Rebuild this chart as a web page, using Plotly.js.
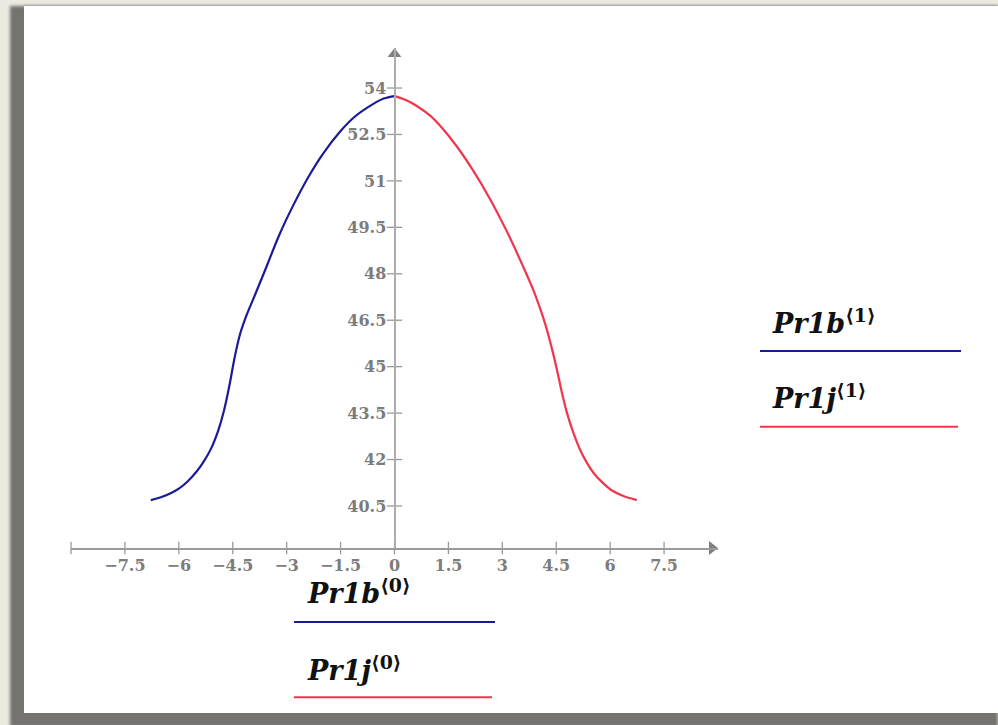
<!DOCTYPE html>
<html>
<head>
<meta charset="utf-8">
<script src="https://cdn.plot.ly/plotly-3.0.1.min.js"></script>
<style>
  html, body { margin: 0; padding: 0; background: #ece9e1; width: 998px; height: 725px; overflow: hidden; }
  #frame { position: absolute; left: 24px; top: 6px; width: 974px; height: 707px; background: #fff;
           box-shadow: -7px 7px 3px 7px #74736f, 0 -1px 2px #c9c6be; }
  #plot { width: 974px; height: 707px; }
</style>
</head>
<body>
<div id="frame"><div id="plot"></div></div>
<script>
// ---- data ----
const blueX = [-6.78, -6.5, -6.2, -6.0, -5.75, -5.5, -5.3, -5.1, -4.9, -4.75, -4.6, -4.45, -4.3, -4.11, -3.93, -3.8, -3.55, -3.2, -2.8, -2.4, -2.0, -1.5, -1.1, -0.6, -0.3, 0];
const blueY = [40.69, 40.78, 40.93, 41.06, 41.30, 41.62, 41.95, 42.36, 42.95, 43.55, 44.35, 45.28, 46.04, 46.68, 47.18, 47.55, 48.26, 49.27, 50.25, 51.12, 51.86, 52.61, 53.08, 53.48, 53.66, 53.74];
const redX = [0, 0.3, 0.62, 1.0, 1.27, 1.73, 2.19, 2.66, 3.12, 3.58, 3.86, 4.05, 4.2, 4.32, 4.44, 4.56, 4.68, 4.8, 4.98, 5.15, 5.35, 5.55, 5.81, 6.05, 6.35, 6.74];
const redY = [53.74, 53.62, 53.42, 53.1, 52.78, 52.12, 51.33, 50.41, 49.38, 48.23, 47.48, 46.88, 46.35, 45.85, 45.3, 44.68, 44.05, 43.5, 42.85, 42.35, 41.9, 41.55, 41.23, 41.0, 40.83, 40.69];

const xTickVals = [-7.5, -6, -4.5, -3, -1.5, 0, 1.5, 3, 4.5, 6, 7.5];
const xTickText = ['\u22127.5', '\u22126', '\u22124.5', '\u22123', '\u22121.5', '0', '1.5', '3', '4.5', '6', '7.5'];
const xTickMarks = [-9, -7.5, -6, -4.5, -3, -1.5, 0, 1.5, 3, 4.5, 6, 7.5];
const yTickVals = [40.5, 42, 43.5, 45, 46.5, 48, 49.5, 51, 52.5, 54];
const yTickText = ['40.5', '42', '43.5', '45', '46.5', '48', '49.5', '51', '52.5', '54'];

const legendLabels = [
  '<b><i>Pr1b</i></b><sup><b>\u27e80\u27e9</b></sup>',
  '<b><i>Pr1j</i></b><sup><b>\u27e80\u27e9</b></sup>',
  '<b><i>Pr1b</i></b><sup><b>\u27e81\u27e9</b></sup>',
  '<b><i>Pr1j</i></b><sup><b>\u27e81\u27e9</b></sup>'
];

// ---- layout constants ----
const xRange = [-9, 9];
const yRange = [39.143, 55.293];
const W = 974, H = 707;
const M = {l: 47, r: 280, t: 42, b: 165};
const plotW = W - M.l - M.r, plotH = H - M.t - M.b;
const pxPerX = plotW / (xRange[1] - xRange[0]);
const pxPerY = plotH / (yRange[1] - yRange[0]);
// page-pixel -> paper helpers (frame sits at page 24,6)
const PX0 = 24 + M.l, PY1 = 6 + M.t + plotH;
const px = v => (v - PX0) / plotW;
const py = v => (PY1 - v) / plotH;

const BLUE = '#1b1b98';
const RED = '#f2354c';
const AXC = '#9a9a9a';

const traces = [
  {x: xTickMarks, y: xTickMarks.map(() => yRange[0]), mode: 'markers', hoverinfo: 'skip', cliponaxis: false,
   marker: {symbol: 'line-ns', size: 9, color: AXC, line: {width: 1.3, color: AXC}}},
  {x: yTickVals.map(() => 0), y: yTickVals, mode: 'markers', hoverinfo: 'skip', cliponaxis: false,
   marker: {symbol: 'line-ew', size: 11, color: AXC, line: {width: 1.3, color: AXC}}},
  {x: [0], y: [yRange[1] - 6 / pxPerY], mode: 'markers', hoverinfo: 'skip', cliponaxis: false,
   marker: {symbol: 'triangle-up', size: 12, color: '#808080'}},
  {x: [xRange[1] - 6 / pxPerX], y: [yRange[0]], mode: 'markers', hoverinfo: 'skip', cliponaxis: false,
   marker: {symbol: 'triangle-right', size: 12, color: '#808080'}},
  {x: blueX, y: blueY, mode: 'lines', line: {color: BLUE, width: 2.2, shape: 'spline', smoothing: 1}, hoverinfo: 'x+y'},
  {x: redX, y: redY, mode: 'lines', line: {color: RED, width: 2.2, shape: 'spline', smoothing: 1}, hoverinfo: 'x+y'}
];

const tickFont = {family: 'DejaVu Serif', size: 16, color: '#7c7c7c', weight: 'bold'};
const legFont = {family: 'DejaVu Serif', size: 27, color: '#111111'};

const legendPos = [
  {x: 305, base: 603, lx0: 294, lx1: 495, ly: 622, c: BLUE},
  {x: 305, base: 680, lx0: 294, lx1: 492, ly: 697.3, c: RED},
  {x: 770, base: 333, lx0: 760, lx1: 961, ly: 351, c: BLUE},
  {x: 770, base: 408, lx0: 760, lx1: 958, ly: 426.7, c: RED}
];

const annotations = legendPos.map((p, i) => ({
  xref: 'paper', yref: 'paper', x: px(p.x), y: py(p.base + 8), xanchor: 'left', yanchor: 'bottom',
  text: legendLabels[i], showarrow: false, font: legFont
}));
const shapes = legendPos.map(p => ({
  type: 'line', xref: 'paper', yref: 'paper', x0: px(p.lx0), x1: px(p.lx1), y0: py(p.ly), y1: py(p.ly),
  line: {color: p.c, width: 2}
}));

const layout = {
  width: W, height: H,
  margin: M,
  paper_bgcolor: '#ffffff', plot_bgcolor: '#ffffff',
  showlegend: false,
  xaxis: {range: xRange, showgrid: false, zeroline: false, showline: true, linecolor: AXC, linewidth: 1.5,
          tickvals: xTickVals, ticktext: xTickText, ticks: '', tickfont: tickFont, ticklabelstandoff: 2,
          fixedrange: true},
  yaxis: {range: yRange, showgrid: false, zeroline: false, showline: true, linecolor: '#adadad', linewidth: 2.2,
          anchor: 'free', position: (0 - xRange[0]) / (xRange[1] - xRange[0]), side: 'left',
          tickvals: yTickVals, ticktext: yTickText, ticks: '', tickfont: tickFont, ticklabelstandoff: 4,
          fixedrange: true},
  annotations: annotations,
  shapes: shapes
};

Plotly.newPlot('plot', traces, layout, {displayModeBar: false, staticPlot: true});
</script>
</body>
</html>
